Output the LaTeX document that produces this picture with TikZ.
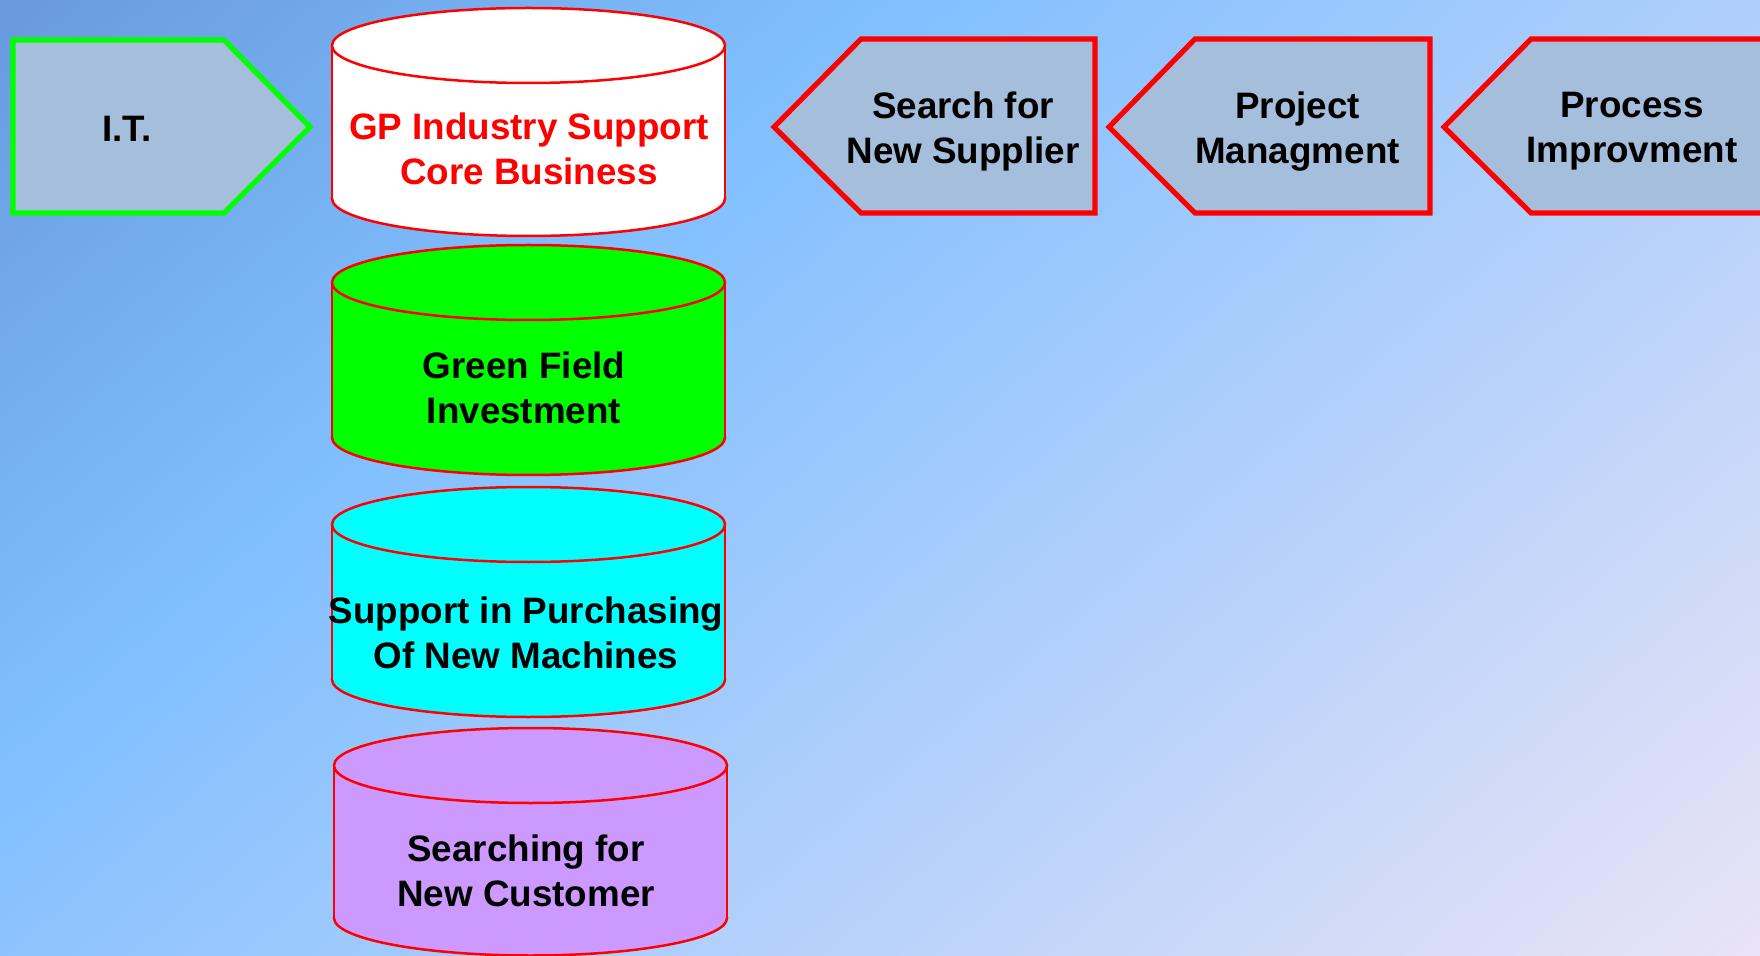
\documentclass[tikz,border=0pt]{standalone}
\usepackage{fontspec}
\setmainfont{Liberation Sans}
\definecolor{bgA}{RGB}{104,154,220}
\definecolor{bgB}{RGB}{128,191,255}
\definecolor{bgC}{RGB}{236,228,246}
\definecolor{chevfill}{RGB}{164,190,220}
\definecolor{cylred}{RGB}{255,0,0}
\definecolor{lgreen}{RGB}{0,255,0}
\definecolor{lcyan}{RGB}{0,255,255}
\definecolor{lpurple}{RGB}{204,153,255}
\pgfdeclarehorizontalshading{bgshade}{100bp}{color(0bp)=(bgA); color(25bp)=(bgA); color(40bp)=(bgB); color(75bp)=(bgC); color(100bp)=(bgC)}
\newcommand{\mycyl}[4]{%
  \fill[#4] (#1,#3) ellipse[x radius=196.5,y radius=37.5];
  \draw[cylline] (#1,#3) ellipse[x radius=196.5,y radius=37.5];
  \fill[#4] (#1-196.5,#2) rectangle (#1+196.5,#3);
  \draw[cylline] (#1-196.5,#2) -- (#1-196.5,#3) (#1+196.5,#2) -- (#1+196.5,#3);
  \draw[cylline,fill=#4] (#1,#2) ellipse[x radius=196.5,y radius=37.5];
}
\tikzset{
  cylline/.style={draw=cylred,line width=1.25pt},
  chevline/.style={draw=cylred,line width=2.6pt,fill=chevfill,line join=miter},
  itline/.style={draw=lgreen,line width=2.6pt,fill=chevfill,line join=miter},
  lbl/.style={align=center,inner sep=0pt,font=\fontsize{18.4}{22.5}\selectfont\bfseries,text=black},
}
\begin{document}
\begin{tikzpicture}[x=0.5pt,y=-0.5pt]
\useasboundingbox (0,0) rectangle (1760,956);
\begin{scope}
  \clip (0,0) rectangle (1760,956);
  \begin{scope}[transform canvas={rotate=-49.3}]
    \shade[shading=bgshade] (0,-2200) rectangle (1910,2200);
  \end{scope}
  % I.T. pentagon
  \draw[itline] (13,40) -- (224,40) -- (310,127) -- (224,213) -- (13,213) -- cycle;
  \node[lbl] (it) at (127,129) {I.T.};
  % chevrons
  \draw[chevline] (774,127) -- (861,39) -- (1095,39) -- (1095,213) -- (861,213) -- cycle;
  \node[lbl] (search) at (963,131.5) {Search for\\New Supplier};
  \draw[chevline] (1109,127) -- (1195,39) -- (1430,39) -- (1430,213) -- (1195,213) -- cycle;
  \node[lbl] (project) at (1297.5,131.5) {Project\\Managment};
  \draw[chevline] (1444,127) -- (1531,39) -- (1780,39) -- (1780,213) -- (1531,213) -- cycle;
  \node[lbl] (process) at (1632,131.5) {Process\\Improvment};
  % cylinders
  \mycyl{528.5}{45.5}{198.5}{white}
  \node[lbl,text=cylred] (core) at (529,148.5) {GP Industry Support\\Core Business};
  \mycyl{528.5}{282.5}{437.5}{lgreen}
  \node[lbl] (green) at (524,388) {Green Field\\Investment};
  \mycyl{528.5}{524.5}{679.5}{lcyan}
  \node[lbl] (purch) at (526,633) {Support in Purchasing\\Of New Machines};
  \mycyl{530.5}{765.5}{918}{lpurple}
  \node[lbl] (cust) at (526,871) {Searching for\\New Customer};
\end{scope}
\end{tikzpicture}
\end{document}
